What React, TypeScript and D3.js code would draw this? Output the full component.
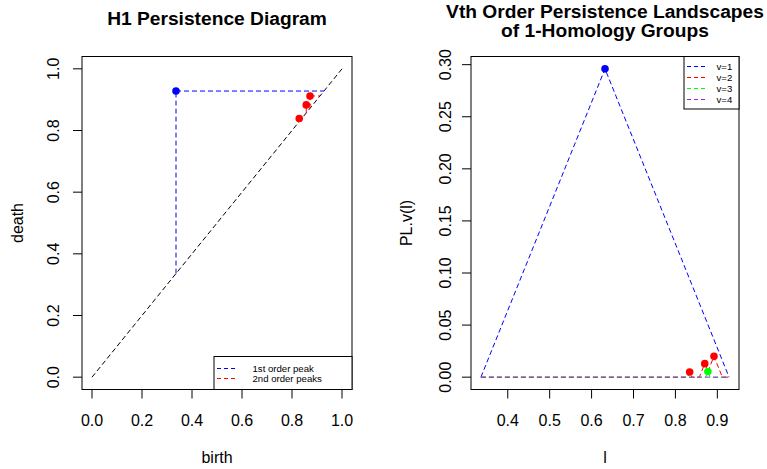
import React from "react";
import * as d3 from "d3";

// ---------- Data ----------
// H1 persistence diagram
const diagonal = [0, 1];
const peakBirth = [0.336];
const peakDeath = [0.928];
const secondBirth = [0.872, 0.857, 0.829];
const secondDeath = [0.912, 0.883, 0.839];

const diagTicks = [0, 0.2, 0.4, 0.6, 0.8, 1.0];
const diagLegend = ["1st order peak", "2nd order peaks"];

// Vth order persistence landscapes
const land1L = [0.336, 0.632, 0.928];
const land1V = [0, 0.296, 0];
const land2L = [0.336, 0.829, 0.834, 0.839, 0.857, 0.87, 0.8775, 0.892, 0.912, 0.928];
const land2V = [0, 0, 0.005, 0, 0, 0.013, 0.0055, 0.02, 0, 0];
const land3L = [0.336, 0.872, 0.8775, 0.883, 0.928];
const land3V = [0, 0, 0.0055, 0, 0];
const land4L = [0.336, 0.928];
const land4V = [0, 0];

const peak1L = [0.632];
const peak1V = [0.296];
const peak2L = [0.834, 0.87, 0.892];
const peak2V = [0.005, 0.013, 0.02];
const peak3L = [0.8775];
const peak3V = [0.0055];

const landXTicks = [0.4, 0.5, 0.6, 0.7, 0.8, 0.9];
const landYTicks = [0, 0.05, 0.1, 0.15, 0.2, 0.25, 0.3];
const landLegend = ["v=1", "v=2", "v=3", "v=4"];

const COLORS = ["#0000FF", "#FF0000", "#00FF00", "#A020F0"];
const FONT = "'Liberation Sans', Arial, sans-serif";
const DASH = "5,3";

export default function App() {
  // ---------- Left panel ----------
  const L = { left: 82, right: 352, top: 56.5, bottom: 389.5 };
  const xD = d3.scaleLinear().domain([-0.04, 1.04]).range([L.left, L.right]);
  const yD = d3.scaleLinear().domain([-0.04, 1.04]).range([L.bottom, L.top]);

  // ---------- Right panel ----------
  const R = { left: 471, right: 739, top: 56.5, bottom: 389.5 };
  const lMin = d3.min(land1L)!;
  const lMax = d3.max(land1L)!;
  const lPad = (lMax - lMin) * 0.04;
  const vMax = d3.max(land1V)!;
  const vPad = vMax * 0.04;
  const xL = d3.scaleLinear().domain([lMin - lPad, lMax + lPad]).range([R.left, R.right]);
  const yL = d3.scaleLinear().domain([-vPad, vMax + vPad]).range([R.bottom, R.top]);

  const lineL = d3
    .line<[number, number]>()
    .x((d) => xL(d[0]))
    .y((d) => yL(d[1]));

  const lands = [
    [land1L, land1V],
    [land2L, land2V],
    [land3L, land3V],
    [land4L, land4V],
  ];

  const tickLen = 9;

  return (
    <svg
      width={767}
      height={469}
      style={{ position: "absolute", left: 0, top: 0, background: "#fff" }}
      fontFamily={FONT}
    >
      <rect x={0} y={0} width={767} height={469} fill="#fff" />
      {/* ===== Left: persistence diagram ===== */}
      <text x={(L.left + L.right) / 2} y={25} textAnchor="middle" fontSize={19.2} fontWeight="bold">
        H1 Persistence Diagram
      </text>
      <line
        x1={xD(diagonal[0])}
        y1={yD(diagonal[0])}
        x2={xD(diagonal[1])}
        y2={yD(diagonal[1])}
        stroke="#000"
        strokeDasharray={DASH}
      />
      {peakBirth.map((b, i) => (
        <g key={"p" + i} stroke={COLORS[0]} strokeDasharray={DASH} fill="none">
          <line x1={xD(b)} y1={yD(b)} x2={xD(b)} y2={yD(peakDeath[i])} />
          <line x1={xD(b)} y1={yD(peakDeath[i])} x2={xD(peakDeath[i])} y2={yD(peakDeath[i])} />
        </g>
      ))}
      {secondBirth.map((b, i) => (
        <g key={"s" + i} stroke={COLORS[1]} strokeDasharray={DASH} fill="none">
          <line x1={xD(b)} y1={yD(b)} x2={xD(b)} y2={yD(secondDeath[i])} />
          <line x1={xD(b)} y1={yD(secondDeath[i])} x2={xD(secondDeath[i])} y2={yD(secondDeath[i])} />
        </g>
      ))}
      {peakBirth.map((b, i) => (
        <circle key={"pc" + i} cx={xD(b)} cy={yD(peakDeath[i])} r={3.8} fill={COLORS[0]} />
      ))}
      {secondBirth.map((b, i) => (
        <circle key={"sc" + i} cx={xD(b)} cy={yD(secondDeath[i])} r={3.8} fill={COLORS[1]} />
      ))}
      <rect x={L.left} y={L.top} width={L.right - L.left} height={L.bottom - L.top} fill="none" stroke="#000" />
      {diagTicks.map((t) => (
        <g key={"dx" + t}>
          <line x1={xD(t)} x2={xD(t)} y1={L.bottom} y2={L.bottom + tickLen} stroke="#000" />
          <text x={xD(t)} y={420} textAnchor="middle" dominantBaseline="central" fontSize={16}>
            {t.toFixed(1)}
          </text>
        </g>
      ))}
      {diagTicks.map((t) => (
        <g key={"dy" + t}>
          <line x1={L.left - tickLen} x2={L.left} y1={yD(t)} y2={yD(t)} stroke="#000" />
          <text
            transform={`translate(53,${yD(t)}) rotate(-90)`}
            textAnchor="middle"
            dominantBaseline="central"
            fontSize={16}
          >
            {t.toFixed(1)}
          </text>
        </g>
      ))}
      <text x={(L.left + L.right) / 2} y={457} textAnchor="middle" dominantBaseline="central" fontSize={16}>
        birth
      </text>
      <text
        transform={`translate(17,${(L.top + L.bottom) / 2}) rotate(-90)`}
        textAnchor="middle"
        dominantBaseline="central"
        fontSize={16}
      >
        death
      </text>
      <rect x={214} y={356.5} width={L.right - 214} height={L.bottom - 356.5} fill="#fff" stroke="#000" />
      {diagLegend.map((s, i) => (
        <g key={"dl" + i}>
          <line x1={217} x2={238} y1={368.5 + i * 10} y2={368.5 + i * 10} stroke={COLORS[i]} strokeDasharray="4,3" />
          <text x={252.5} y={368.5 + i * 10} dominantBaseline="central" fontSize={9.6}>
            {s}
          </text>
        </g>
      ))}

      {/* ===== Right: landscapes ===== */}
      <text x={(R.left + R.right) / 2} y={18} textAnchor="middle" fontSize={19.2} fontWeight="bold">
        Vth Order Persistence Landscapes
      </text>
      <text x={(R.left + R.right) / 2} y={37} textAnchor="middle" fontSize={19.2} fontWeight="bold">
        of 1-Homology Groups
      </text>
      {lands.map(([ls, vs], i) => (
        <path
          key={"land" + i}
          d={lineL(ls.map((l, j) => [l, vs[j]]) as [number, number][]) || ""}
          fill="none"
          stroke={COLORS[i]}
          strokeDasharray={DASH}
        />
      ))}
      {peak1L.map((l, i) => (
        <circle key={"p1" + i} cx={xL(l)} cy={yL(peak1V[i])} r={3.8} fill={COLORS[0]} />
      ))}
      {peak2L.map((l, i) => (
        <circle key={"p2" + i} cx={xL(l)} cy={yL(peak2V[i])} r={3.8} fill={COLORS[1]} />
      ))}
      {peak3L.map((l, i) => (
        <circle key={"p3" + i} cx={xL(l)} cy={yL(peak3V[i])} r={3.8} fill={COLORS[2]} />
      ))}
      <rect x={R.left} y={R.top} width={R.right - R.left} height={R.bottom - R.top} fill="none" stroke="#000" />
      {landXTicks.map((t) => (
        <g key={"lx" + t}>
          <line x1={xL(t)} x2={xL(t)} y1={R.bottom} y2={R.bottom + tickLen} stroke="#000" />
          <text x={xL(t)} y={420} textAnchor="middle" dominantBaseline="central" fontSize={16}>
            {t.toFixed(1)}
          </text>
        </g>
      ))}
      {landYTicks.map((t) => (
        <g key={"ly" + t}>
          <line x1={R.left - tickLen} x2={R.left} y1={yL(t)} y2={yL(t)} stroke="#000" />
          <text
            transform={`translate(445,${yL(t)}) rotate(-90)`}
            textAnchor="middle"
            dominantBaseline="central"
            fontSize={16}
          >
            {t.toFixed(2)}
          </text>
        </g>
      ))}
      <text x={(R.left + R.right) / 2} y={457} textAnchor="middle" dominantBaseline="central" fontSize={16}>
        l
      </text>
      <text
        transform={`translate(406,${(R.top + R.bottom) / 2}) rotate(-90)`}
        textAnchor="middle"
        dominantBaseline="central"
        fontSize={16}
      >
        PL.v(l)
      </text>
      <rect x={684} y={R.top} width={R.right - 684} height={109 - R.top} fill="#fff" stroke="#000" />
      {landLegend.map((s, i) => (
        <g key={"ll" + i}>
          <line x1={687} x2={708} y1={66.5 + i * 11} y2={66.5 + i * 11} stroke={COLORS[i]} strokeDasharray="4,3" />
          <text x={716.5} y={66.5 + i * 11} dominantBaseline="central" fontSize={9.6}>
            {s}
          </text>
        </g>
      ))}
    </svg>
  );
}
